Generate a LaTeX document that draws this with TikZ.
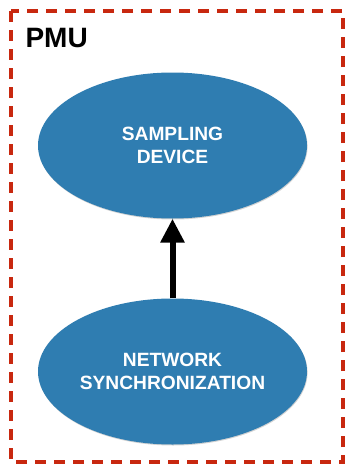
\documentclass[tikz,border=0pt]{standalone}
\usepackage{fontspec}
\setmainfont{Liberation Sans}
\usetikzlibrary{arrows.meta,shapes.geometric,shadows}
\definecolor{unitred}{HTML}{C8280F}
\definecolor{blockblue}{HTML}{2F7DB1}
\begin{document}
\begin{tikzpicture}[x=1pt,y=-1pt,
  block/.style={ellipse, fill=blockblue, minimum width=269pt, minimum height=146pt,
    inner sep=0pt, text=white, font=\fontsize{19.2}{23}\selectfont\bfseries, align=center,
    drop shadow={shadow xshift=0.6pt, shadow yshift=-1pt, opacity=0.35}},
  frame/.style={draw=unitred, line width=4.5pt, dash pattern=on 11pt off 8pt},
  link/.style={line width=6pt, -{Triangle[width=23pt,length=24pt]}}]
  \useasboundingbox (0,0) rectangle (345,466);
  \draw[frame] (11,11) rectangle (343,462);
  \node[anchor=west, font=\fontsize{28}{32}\selectfont\bfseries] (title) at (22,38) {PMU};
  \node[block] (samp) at (172.5,145.5) {SAMPLING\\DEVICE};
  \node[block] (sync) at (172.5,371.5) {NETWORK\\SYNCHRONIZATION};
  \draw[link] (sync.north) -- (samp.south);
\end{tikzpicture}
\end{document}
